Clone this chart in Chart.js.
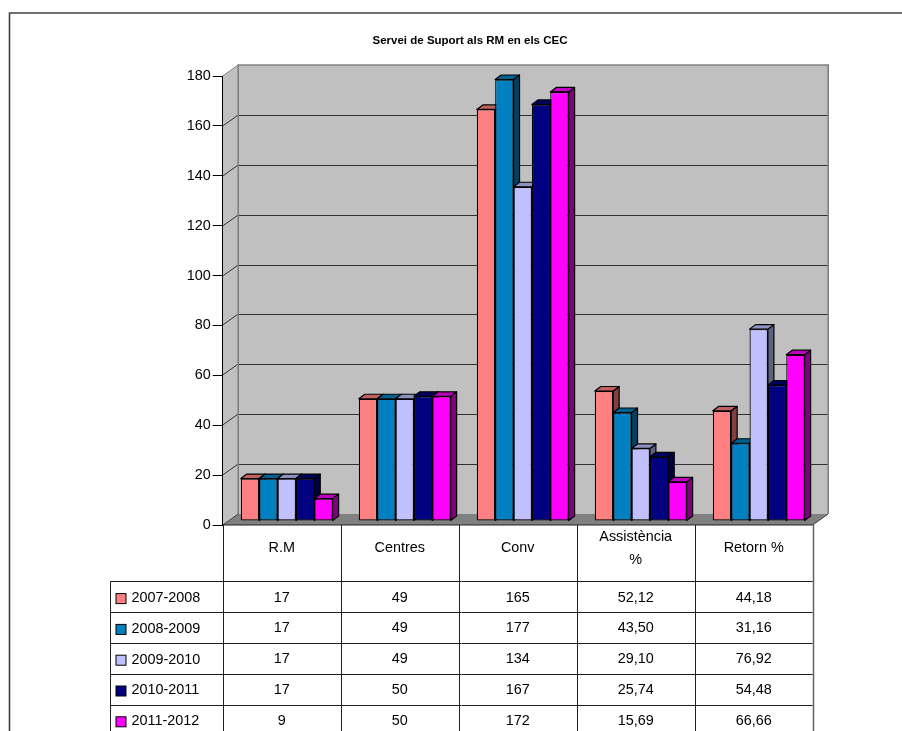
<!DOCTYPE html>
<html>
<head>
<meta charset="utf-8">
<style>html,body{margin:0;padding:0;background:#fff;overflow:hidden}#w{position:relative;width:902px;height:731px}</style>
<script src="https://cdn.jsdelivr.net/npm/chart.js@4"></script>
</head>
<body>
<div id="w"><canvas id="c" width="902" height="731"></canvas></div>
<script>
const chartTitle = 'Servei de Suport als RM en els CEC';
const categories = ['R.M', 'Centres', 'Conv', ['Assistència', '%'], 'Retorn %'];
const seriesNames = ['2007-2008', '2008-2009', '2009-2010', '2010-2011', '2011-2012'];
const s2007 = [17, 49, 165, 52.12, 44.18];
const s2008 = [17, 49, 177, 43.50, 31.16];
const s2009 = [17, 49, 134, 29.10, 76.92];
const s2010 = [17, 50, 167, 25.74, 54.48];
const s2011 = [9, 50, 172, 15.69, 66.66];
const allSeries = [s2007, s2008, s2009, s2010, s2011];
const decimalsByCategory = [0, 0, 0, 2, 2];
const frontColors = ['#FF8080', '#0080C0', '#C0C0FF', '#000080', '#FF00FF'];
const topColors = ['#C06060', '#006090', '#9090C0', '#000060', '#C000C0'];
const sideColors = ['#804040', '#004060', '#606080', '#000040', '#800080'];
const yTicks = [0, 20, 40, 60, 80, 100, 120, 140, 160, 180];

const FONT = '"Liberation Sans", Arial, sans-serif';
const WALL = {dx: 15.5, dy: -11};     // depth of the whole plot box
const BAR_SHIFT = {dx: 5, dy: -4};    // bars sit inside the box
const BAR_DEPTH = {dx: 6, dy: -4.5};  // depth of each bar
const TABLE = {left: 110.5, headerBottom: 581.3, rowH: 30.8, textOffset: 16.3};

const threeD = {
  id: 'threeD',
  beforeDraw(chart) {
    const {ctx, width, height} = chart;
    const {left, right, top, bottom} = chart.chartArea;
    const y = chart.scales.y;
    ctx.save();
    ctx.fillStyle = '#fff';
    ctx.fillRect(0, 0, width, height);
    // outer frame (left and top only)
    ctx.strokeStyle = '#404040';
    ctx.lineWidth = 1.6;
    ctx.beginPath();
    ctx.moveTo(9.5, height); ctx.lineTo(9.5, 13); ctx.lineTo(width, 13);
    ctx.stroke();
    const bx = left + WALL.dx, by = top + WALL.dy, bb = bottom + WALL.dy, br = right + WALL.dx;
    // back wall
    ctx.fillStyle = '#C0C0C0';
    ctx.fillRect(bx, by, br - bx, bb - by);
    // left wall
    ctx.beginPath();
    ctx.moveTo(left, top); ctx.lineTo(bx, by); ctx.lineTo(bx, bb); ctx.lineTo(left, bottom); ctx.closePath();
    ctx.fill();
    // floor
    ctx.fillStyle = '#808080';
    ctx.beginPath();
    ctx.moveTo(left, bottom); ctx.lineTo(bx, bb); ctx.lineTo(br, bb); ctx.lineTo(right, bottom); ctx.closePath();
    ctx.fill();
    // grid lines
    ctx.strokeStyle = '#303030';
    ctx.lineWidth = 1;
    yTicks.forEach(v => {
      if (v === 0) return;
      const py = Math.round(y.getPixelForValue(v)) ;
      ctx.beginPath();
      if (v !== 180) {
        ctx.moveTo(bx, py + WALL.dy + .5); ctx.lineTo(br, py + WALL.dy + .5);
      }
      ctx.stroke();
      ctx.beginPath();
      ctx.moveTo(left, py); ctx.lineTo(bx, py + WALL.dy);
      ctx.strokeStyle = v === 180 ? '#808080' : '#303030';
      ctx.stroke();
      ctx.strokeStyle = '#303030';
    });
    // wall edges
    ctx.strokeStyle = '#808080';
    ctx.lineWidth = 1.6;
    ctx.beginPath();
    ctx.moveTo(bx, bb); ctx.lineTo(bx, by); ctx.lineTo(br, by); ctx.lineTo(br, bb);
    ctx.stroke();
    ctx.lineWidth = 1;
    ctx.beginPath();
    ctx.moveTo(left, bottom); ctx.lineTo(bx, bb);
    ctx.moveTo(right, bottom); ctx.lineTo(br, bb);
    ctx.strokeStyle = '#404040';
    ctx.stroke();
    ctx.restore();
  },
  beforeDatasetDraw() { return false; },
  afterDatasetsDraw(chart) {
    const {ctx} = chart;
    ctx.save();
    ctx.translate(BAR_SHIFT.dx, BAR_SHIFT.dy);
    chart.data.datasets.forEach((ds, i) => {
      const meta = chart.getDatasetMeta(i);
      meta.data.forEach(bar => {
        const p = bar.getProps(['x', 'y', 'base', 'width'], true);
        const l = p.x - p.width / 2, r = p.x + p.width / 2;
        const d = BAR_DEPTH;
        ctx.lineWidth = 1.2;
        ctx.strokeStyle = '#000';
        ctx.lineJoin = 'round';
        ctx.fillStyle = sideColors[i];
        ctx.beginPath();
        ctx.moveTo(r, p.y); ctx.lineTo(r + d.dx, p.y + d.dy); ctx.lineTo(r + d.dx, p.base + d.dy); ctx.lineTo(r, p.base); ctx.closePath();
        ctx.fill(); ctx.stroke();
        ctx.fillStyle = topColors[i];
        ctx.beginPath();
        ctx.moveTo(l, p.y); ctx.lineTo(l + d.dx, p.y + d.dy); ctx.lineTo(r + d.dx, p.y + d.dy); ctx.lineTo(r, p.y); ctx.closePath();
        ctx.fill(); ctx.stroke();
      });
      meta.controller.draw();
    });
    ctx.restore();
  },
  afterDraw(chart) {
    const {ctx, height} = chart;
    const {left, right, bottom} = chart.chartArea;
    const x = chart.scales.x;
    const colW = (right - left) / categories.length;
    ctx.save();
    // table lines
    ctx.strokeStyle = '#202020';
    ctx.lineWidth = 1;
    const line = (a, b, c, d) => { ctx.beginPath(); ctx.moveTo(a, b); ctx.lineTo(c, d); ctx.stroke(); };
    line(left, bottom, right, bottom);
    for (let c = 0; c <= categories.length; c++) {
      const px = Math.round(x.getPixelForValue(c) - colW / 2) + .5;
      ctx.strokeStyle = c === categories.length ? '#606060' : '#202020';
      ctx.lineWidth = c === categories.length ? 1.5 : 1;
      line(px, bottom, px, height);
    }
    ctx.strokeStyle = '#202020';
    ctx.lineWidth = 1;
    seriesNames.forEach((n, r) => {
      const py = Math.round(TABLE.headerBottom + r * TABLE.rowH) + .5;
      line(TABLE.left, py, right, py);
    });
    line(TABLE.left, TABLE.headerBottom, TABLE.left, height);
    // table text
    ctx.font = '14.4px ' + FONT;
    ctx.textBaseline = 'middle';
    seriesNames.forEach((n, r) => {
      const cy = TABLE.headerBottom + r * TABLE.rowH + TABLE.textOffset;
      ctx.fillStyle = frontColors[r];
      ctx.strokeStyle = '#000';
      ctx.lineWidth = 1;
      ctx.fillRect(116, cy + .5 - 4.5, 10, 10);
      ctx.strokeRect(116, cy + .5 - 4.5, 10, 10);
      ctx.fillStyle = '#000';
      ctx.textAlign = 'left';
      ctx.fillText(n, 131.5, cy + .5);
      ctx.textAlign = 'center';
      allSeries[r].forEach((v, c) => {
        const t = v.toFixed(decimalsByCategory[c]).replace('.', ',');
        ctx.fillText(t, x.getPixelForValue(c), cy);
      });
    });
    ctx.restore();
  }
};

// Move the title block so that its centre falls where the reference has it.
const titlePlace = {
  id: 'titlePlace',
  afterLayout(chart) {
    chart.titleBlock.left = 48;
    chart.titleBlock.right = 892;
  }
};

new Chart(document.getElementById('c'), {
  type: 'bar',
  data: {
    labels: categories,
    datasets: seriesNames.map((n, i) => ({
      label: n,
      data: allSeries[i],
      backgroundColor: frontColors[i],
      borderColor: '#000',
      borderWidth: 1.2,
      borderSkipped: false
    }))
  },
  options: {
    responsive: false,
    animation: false,
    devicePixelRatio: 1,
    categoryPercentage: 0.778,
    barPercentage: 1,
    layout: {padding: {left: 0, right: 89.3, top: 0, bottom: 0}},
    plugins: {
      legend: {display: false},
      tooltip: {enabled: false},
      title: {
        display: true,
        text: chartTitle,
        color: '#000',
        font: {family: FONT, size: 11.5, weight: 'bold', lineHeight: 1.2},
        padding: {top: 33.7, bottom: 28.5}
      }
    },
    scales: {
      x: {
        type: 'category',
        grid: {display: false},
        border: {display: false},
        ticks: {
          color: '#000',
          font: {family: FONT, size: 14.4, lineHeight: 1.6},
          padding: 4,
          maxRotation: 0,
          autoSkip: false,
          crossAlign: 'center'
        },
        afterFit(s) { s.height = 206; }
      },
      y: {
        min: 0,
        max: 180,
        grid: {drawOnChartArea: false, drawTicks: true, tickLength: 10, color: '#000', tickWidth: 1},
        border: {display: true, color: '#000', width: 1},
        ticks: {
          color: '#000',
          stepSize: 20,
          font: {family: FONT, size: 14.4},
          padding: 2
        },
        afterFit(s) { s.width = 222.7; }
      }
    }
  },
  plugins: [threeD, titlePlace]
});
</script>
</body>
</html>
